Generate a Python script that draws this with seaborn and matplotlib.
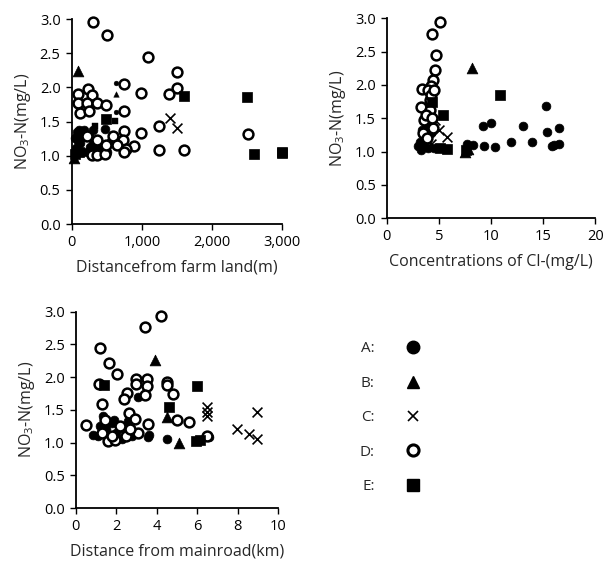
import numpy as np
import pandas as pd
import matplotlib
matplotlib.use("Agg")
import matplotlib.pyplot as plt
import seaborn as sns
from matplotlib.ticker import FuncFormatter, MultipleLocator
from matplotlib.lines import Line2D

sns.set_style("ticks")
plt.rcParams['font.family'] = ['Open Sans', 'DejaVu Sans']
plt.rcParams['mathtext.fontset'] = 'custom'
plt.rcParams['mathtext.rm'] = 'Open Sans'

# ---------------- data: panel 1, distance from farm land (m) ----------------
farm_A_x = [40, 60, 80, 110, 120, 150, 180, 200, 240, 260, 300, 330, 360, 480, 500, 90, 140, 220, 300, 420, 560, 700]
farm_A_y = [1.26, 1.11, 1.35, 1.38, 1.18, 1.06, 1.38, 1.28, 1.30, 1.12, 1.22, 1.08, 1.15, 1.39, 1.05, 1.21, 1.31, 1.05, 1.38, 1.10, 1.21, 1.17]
farm_A_small_x = [631, 631]
farm_A_small_y = [2.06, 1.64]
farm_B_x = [95, 35]
farm_B_y = [2.24, 0.97]
farm_B_small_x = [631]
farm_B_small_y = [1.90]
farm_C_x = [1400, 1500, 660]
farm_C_y = [1.55, 1.40, 1.24]
farm_D_x = [300, 500, 1090, 1500, 1500, 990, 1390, 750, 750, 1240, 990, 1240, 1600, 2510, 890, 750,
            94, 237, 285, 85, 214, 356, 118, 246, 484, 593, 735, 285, 356, 474, 214, 356, 484, 650, 768, 750]
farm_D_y = [2.95, 2.77, 2.44, 2.23, 1.99, 1.92, 1.90, 2.05, 1.66, 1.44, 1.33, 1.08, 1.09, 1.32, 1.14, 1.36,
            1.91, 1.98, 1.89, 1.77, 1.775, 1.77, 1.62, 1.66, 1.74, 1.29, 1.23, 1.01, 1.01, 1.03, 1.29, 1.23, 1.15, 1.15, 1.10, 1.05]
farm_E_x = [1600, 2500, 2600, 3000, 3000, 484, 47, 100]
farm_E_y = [1.87, 1.86, 1.02, 1.04, 1.06, 1.53, 1.03, 1.06]
farm_E_small_x = [332, 617]
farm_E_small_y = [1.43, 1.51]

# ---------------- data: panel 2, Cl- concentration (mg/L) ----------------
cl_A_x = [15.3, 9.2, 10.0, 13.1, 15.4, 16.5, 11.9, 13.9, 9.3, 10.35, 15.8, 16.5, 16.0, 8.3, 7.65,
          3.0, 3.3, 3.5, 3.6, 3.4, 3.8, 4.0, 3.7, 4.2, 3.9, 3.2, 4.5]
cl_A_y = [1.68, 1.385, 1.43, 1.385, 1.295, 1.35, 1.145, 1.145, 1.09, 1.075, 1.09, 1.11, 1.10, 1.10, 1.11,
          1.08, 1.02, 1.12, 1.25, 1.32, 1.38, 1.05, 1.18, 1.28, 1.42, 1.15, 1.05]
cl_B_x = [8.2, 7.5, 7.8, 4.3]
cl_B_y = [2.26, 1.00, 1.04, 1.38]
cl_C_x = [4.6, 5.0, 5.8, 4.2]
cl_C_y = [1.47, 1.33, 1.22, 1.12]
cl_D_x = [5.15, 4.35, 4.76, 4.66, 4.45, 4.25, 3.4, 4.0, 4.1, 3.3, 4.1, 3.6, 4.4, 3.8, 4.2, 4.5, 3.5, 3.9, 4.3]
cl_D_y = [2.94, 2.77, 2.45, 2.23, 2.07, 1.98, 1.935, 1.93, 1.78, 1.67, 1.63, 1.47, 1.35, 1.55, 1.85, 1.92, 1.28, 1.20, 1.50]
cl_E_x = [10.9, 5.4, 5.1, 5.8, 7.6, 4.3]
cl_E_y = [1.855, 1.545, 1.06, 1.04, 1.02, 1.75]

# ---------------- data: panel 3, distance from main road (km) ----------------
road_A_x = [4.5, 1.33, 3.06, 3.56, 0.87, 1.1, 1.5, 1.8, 2.0, 2.3, 1.6, 2.6, 2.8, 1.2, 1.9, 6.6, 2.2, 3.6]
road_A_y = [1.05, 1.41, 1.69, 1.09, 1.12, 1.10, 1.20, 1.30, 1.15, 1.05, 1.08, 1.33, 1.10, 1.25, 1.35, 1.08, 1.22, 1.12]
road_B_x = [3.92, 4.51, 5.1]
road_B_y = [2.26, 1.39, 0.99]
road_C_x = [6.47, 6.47, 6.47, 7.96, 8.58, 8.98, 8.98]
road_C_y = [1.55, 1.47, 1.40, 1.215, 1.13, 1.47, 1.05]
road_D_x = [4.2, 3.43, 1.22, 1.63, 2.04, 2.98, 3.54, 2.98, 3.54, 4.5, 4.5, 4.81, 1.17, 2.52, 2.4, 3.43, 1.32,
            2.64, 2.93, 0.53, 3.57, 5.0, 5.6, 1.43, 6.47, 1.61, 1.94, 3.06, 2.2, 2.5, 1.3, 1.8, 2.7]
road_D_y = [2.93, 2.77, 2.445, 2.22, 2.05, 1.97, 1.97, 1.89, 1.87, 1.93, 1.88, 1.74, 1.89, 1.76, 1.66, 1.73, 1.59,
            1.45, 1.36, 1.27, 1.28, 1.34, 1.31, 1.35, 1.10, 1.02, 1.04, 1.14, 1.25, 1.10, 1.15, 1.10, 1.20]
road_E_x = [1.42, 5.98, 4.6, 5.95, 6.15]
road_E_y = [1.876, 1.86, 1.54, 1.02, 1.04]

groups = ["A", "B", "C", "D", "E"]
legend_labels = ["A:", "B:", "C:", "D:", "E:"]

STYLE = {
    "A": dict(marker="o", s=40, color="black", edgecolor="black", linewidth=0.5),
    "B": dict(marker="^", s=60, color="black", edgecolor="black", linewidth=0.5),
    "C": dict(marker="x", s=50, color="black", linewidth=1.2),
    "D": dict(marker="o", s=50, facecolor="white", edgecolor="black", linewidth=1.8),
    "E": dict(marker="s", s=48, color="black", edgecolor="black", linewidth=0.5),
}
SMALL = {
    "A": dict(marker="o", s=12, color="black", edgecolor="black", linewidth=0.3),
    "B": dict(marker="^", s=16, color="black", edgecolor="black", linewidth=0.3),
    "E": dict(marker="s", s=16, color="black", edgecolor="black", linewidth=0.3),
}


def frame(series):
    rows = []
    for g, (xs, ys) in series.items():
        for x, y in zip(xs, ys):
            rows.append((g, x, y))
    return pd.DataFrame(rows, columns=["group", "x", "y"])


def draw(ax, series, small=None):
    df = frame(series)
    for g in groups:
        sub = df[df.group == g]
        if len(sub):
            sns.scatterplot(data=sub, x="x", y="y", ax=ax, legend=False, **STYLE[g])
        if small and g in small:
            xs, ys = small[g]
            sdf = pd.DataFrame({"x": xs, "y": ys})
            sns.scatterplot(data=sdf, x="x", y="y", ax=ax, legend=False, **SMALL[g])


def style_axes(ax, xlim, xstep, xlabel, fmt=None):
    ax.set_xlim(*xlim)
    ax.set_ylim(0, 3.0)
    ax.xaxis.set_major_locator(MultipleLocator(xstep))
    ax.yaxis.set_major_locator(MultipleLocator(0.5))
    ax.yaxis.set_major_formatter(FuncFormatter(lambda v, p: f"{v:.1f}"))
    if fmt:
        ax.xaxis.set_major_formatter(FuncFormatter(fmt))
    sns.despine(ax=ax)
    for sp in ("left", "bottom"):
        ax.spines[sp].set_linewidth(1.3)
        ax.spines[sp].set_color("black")
    ax.tick_params(direction="out", length=4, width=1, colors="black", labelsize=10.5, pad=4)
    ax.set_xlabel(xlabel, fontsize=11.5, labelpad=7)
    ax.set_ylabel(r"NO$_3$-N(mg/L)", fontsize=11.5, labelpad=5)
    for c in ax.collections:
        c.set_clip_on(False)


fig = plt.figure(figsize=(6.11, 5.68), dpi=100)

ax1 = fig.add_axes([0.1174, 0.6056, 0.3447, 0.3609])
draw(ax1, {"A": (farm_A_x, farm_A_y), "B": (farm_B_x, farm_B_y), "C": (farm_C_x, farm_C_y),
           "D": (farm_D_x, farm_D_y), "E": (farm_E_x, farm_E_y)},
     small={"A": (farm_A_small_x, farm_A_small_y), "B": (farm_B_small_x, farm_B_small_y),
            "E": (farm_E_small_x, farm_E_small_y)})
style_axes(ax1, (0, 3000), 1000, "Distancefrom farm land(m)", fmt=lambda v, p: f"{int(v):,}")

ax2 = fig.add_axes([0.633, 0.6157, 0.3414, 0.3521])
draw(ax2, {"A": (cl_A_x, cl_A_y), "B": (cl_B_x, cl_B_y), "C": (cl_C_x, cl_C_y),
           "D": (cl_D_x, cl_D_y), "E": (cl_E_x, cl_E_y)})
style_axes(ax2, (0, 20), 5, "Concentrations of Cl-(mg/L)", fmt=lambda v, p: f"{int(v)}")

ax3 = fig.add_axes([0.124, 0.1056, 0.331, 0.3456])
draw(ax3, {"A": (road_A_x, road_A_y), "B": (road_B_x, road_B_y), "C": (road_C_x, road_C_y),
           "D": (road_D_x, road_D_y), "E": (road_E_x, road_E_y)})
style_axes(ax3, (0, 10), 2, "Distance from mainroad(km)", fmt=lambda v, p: f"{int(v)}")

# legend: label first, then marker
handles = []
for g in groups:
    st = STYLE[g]
    if g == "C":
        h = Line2D([], [], linestyle="none", marker="x", markersize=7, color="black", markeredgewidth=1.2)
    elif g == "D":
        h = Line2D([], [], linestyle="none", marker="o", markersize=8, markerfacecolor="white",
                   markeredgecolor="black", markeredgewidth=2.2)
    else:
        h = Line2D([], [], linestyle="none", marker=st["marker"], markersize=9, color="black")
    handles.append(h)
fig.legend(handles, legend_labels, loc="upper left", bbox_to_anchor=(0.566, 0.423),
           frameon=False, markerfirst=False, fontsize=11, labelspacing=1.27,
           handletextpad=2.0, handlelength=1.0)

fig.savefig("out.png", dpi=100)
